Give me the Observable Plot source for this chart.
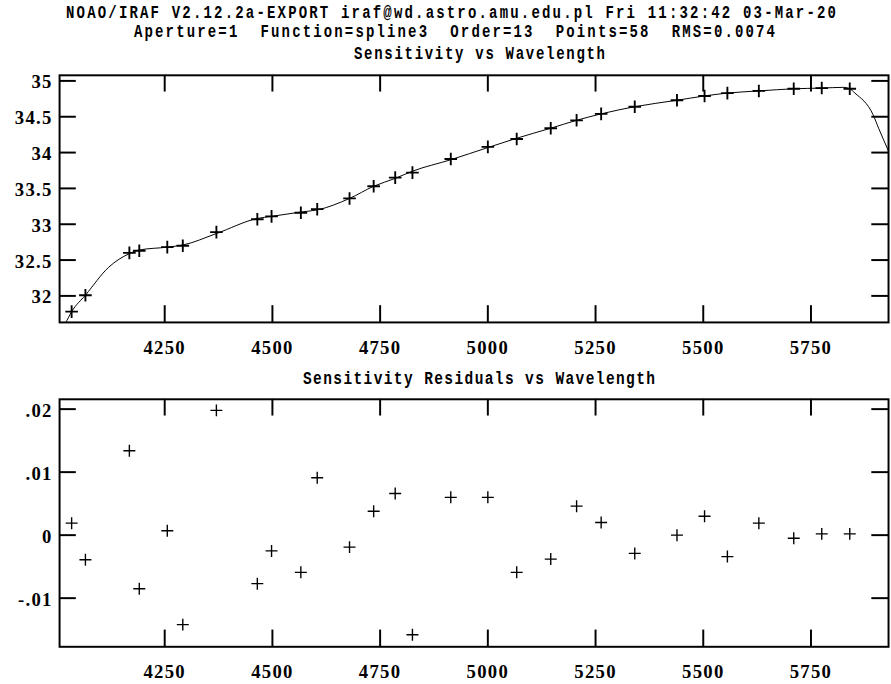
<!DOCTYPE html>
<html>
<head>
<meta charset="utf-8">
<script src="https://cdn.jsdelivr.net/npm/d3@7"></script>
<script src="https://cdn.jsdelivr.net/npm/@observablehq/plot@0.6"></script>
<style>
  html, body { margin: 0; padding: 0; background: white; overflow: hidden; }
  #wrap { position: relative; width: 891px; height: 684px; overflow: hidden; background: white; }
  #wrap > div.p { position: absolute; left: 0; }
  #titles { position: absolute; left: 0; top: 0; pointer-events: none; }
  #titles text { font-family: "Liberation Mono", "DejaVu Sans Mono", monospace; font-weight: bold; fill: black; }
</style>
</head>
<body>
<div id="wrap">
  <div class="p" id="topPanel" style="top:0px"></div>
  <div class="p" id="bottomPanel" style="top:367px"></div>
  <svg id="titles" width="891" height="684">
    <text transform="translate(66,17.8) scale(1,1.25)" font-size="14" textLength="770" lengthAdjust="spacing">NOAO/IRAF V2.12.2a-EXPORT iraf@wd.astro.amu.edu.pl Fri 11:32:42 03-Mar-20</text>
    <text transform="translate(134,36.5) scale(1,1.25)" font-size="14" textLength="641" lengthAdjust="spacing" xml:space="preserve">Aperture=1  Function=spline3  Order=13  Points=58  RMS=0.0074</text>
    <text transform="translate(354,59) scale(1,1.25)" font-size="14" textLength="251" lengthAdjust="spacing">Sensitivity vs Wavelength</text>
    <text transform="translate(303,384) scale(1,1.25)" font-size="14.5" textLength="352" lengthAdjust="spacing">Sensitivity Residuals vs Wavelength</text>
  </svg>
</div>
<script>
// ---- data ----
const wavelength = [4034,4066,4168,4191,4256,4292,4370,4465,4498,4566,4604,4679,4735,4785,4825,4914,5000,5067,5146,5206,5263,5341,5439,5503,5556,5629,5710,5775,5840];
const sensitivity = [31.78,32.01,32.60,32.63,32.68,32.70,32.89,33.07,33.11,33.16,33.21,33.36,33.53,33.65,33.72,33.91,34.08,34.19,34.34,34.45,34.54,34.64,34.73,34.79,34.83,34.86,34.89,34.90,34.89];
const residual = [0.0019,-0.0039,0.0134,-0.0085,0.0007,-0.0142,0.0198,-0.0077,-0.0025,-0.0059,0.0091,-0.0019,0.0038,0.0066,-0.0158,0.0060,0.0060,-0.0059,-0.0038,0.0046,0.0020,-0.0029,0.0000,0.0030,-0.0034,0.0019,-0.0005,0.0002,0.0002];

// fitted spline3 curve
const fitWave = [4020,4034,4066,4120,4168,4191,4256,4292,4370,4465,4498,4566,4604,4679,4735,4785,4825,4914,5000,5067,5146,5206,5263,5341,5439,5503,5556,5629,5710,5775,5826,5840,5852,5894,5907,5930];
const fitValue = [31.62,31.78,32.01,32.40,32.59,32.64,32.68,32.71,32.87,33.08,33.11,33.17,33.20,33.36,33.53,33.64,33.74,33.90,34.07,34.20,34.34,34.45,34.54,34.64,34.73,34.79,34.83,34.86,34.89,34.90,34.91,34.89,34.83,34.53,34.34,34.02];

// ticks and labels
const xTicks = [4250,4500,4750,5000,5250,5500,5750];
const xTickLabels = ["4250","4500","4750","5000","5250","5500","5750"];
const sensTicks = [32,32.5,33,33.5,34,34.5,35];
const sensTickLabels = ["32","32.5","33","33.5","34","34.5","35"];
const resTicks = [-0.01,0,0.01,0.02];
const resTickLabels = ["-.01","0",".01",".02"];

// ---- layout ----
const W = 905, ML = 60, MR = 3;
const FW = W - ML - MR;
const TL = 17; // inward tick length
const labelFont = {fontFamily: "Liberation Serif, DejaVu Serif, serif", fontSize: 19, fontWeight: "bold", fill: "black"};

const pts = wavelength.map((w, i) => ({w, s: sensitivity[i], r: residual[i]}));
const fit = fitWave.map((w, i) => ({w, v: fitValue[i]}));

function frameMarks(yTicks, yLabels, FH) {
  return [
    Plot.frame({stroke: "black", strokeWidth: 2}),
    Plot.tickX(xTicks, {x: d => d, insetBottom: FH - TL, stroke: "black", strokeWidth: 2}),
    Plot.tickX(xTicks, {x: d => d, insetTop: FH - TL, stroke: "black", strokeWidth: 2}),
    Plot.tickY(yTicks, {y: d => d, insetRight: FW - TL, stroke: "black", strokeWidth: 2}),
    Plot.tickY(yTicks, {y: d => d, insetLeft: FW - TL, stroke: "black", strokeWidth: 2}),
    Plot.text(xTicks, {x: d => d, text: (d, i) => xTickLabels[i], frameAnchor: "bottom", lineAnchor: "middle", dy: 26, ...labelFont}),
    Plot.text(yTicks, {y: d => d, text: (d, i) => yLabels[i], frameAnchor: "left", textAnchor: "end", lineAnchor: "middle", dx: -7, dy: 1.5, ...labelFont})
  ];
}

const FH1 = 251;
const topChart = Plot.plot({
  width: W, height: 76 + FH1 + 40,
  marginLeft: ML, marginRight: MR, marginTop: 76, marginBottom: 40,
  style: {background: "white", color: "black", overflow: "visible", letterSpacing: "1.3px"},
  x: {domain: [4006, 5930], axis: null},
  y: {domain: [31.63, 35.078], axis: null},
  marks: [
    ...frameMarks(sensTicks, sensTickLabels, FH1),
    Plot.line(fit, {x: "w", y: "v", curve: "monotone-x", stroke: "black", strokeWidth: 1, clip: true}),
    Plot.dot(pts, {x: "w", y: "s", symbol: "plus", r: 4.2, stroke: "black", strokeWidth: 1.9})
  ]
});
document.getElementById("topPanel").appendChild(topChart);

const FH2 = 251.4;
const bottomChart = Plot.plot({
  width: W, height: 32.3 + FH2 + 33,
  marginLeft: ML, marginRight: MR, marginTop: 32.3, marginBottom: 33,
  style: {background: "white", color: "black", overflow: "visible", letterSpacing: "1.3px"},
  x: {domain: [4006, 5930], axis: null},
  y: {domain: [-0.01772, 0.02156], axis: null},
  marks: [
    ...frameMarks(resTicks, resTickLabels, FH2),
    Plot.dot(pts, {x: "w", y: "r", symbol: "plus", r: 4, stroke: "black", strokeWidth: 1.4})
  ]
});
document.getElementById("bottomPanel").appendChild(bottomChart);
</script>
</body>
</html>
